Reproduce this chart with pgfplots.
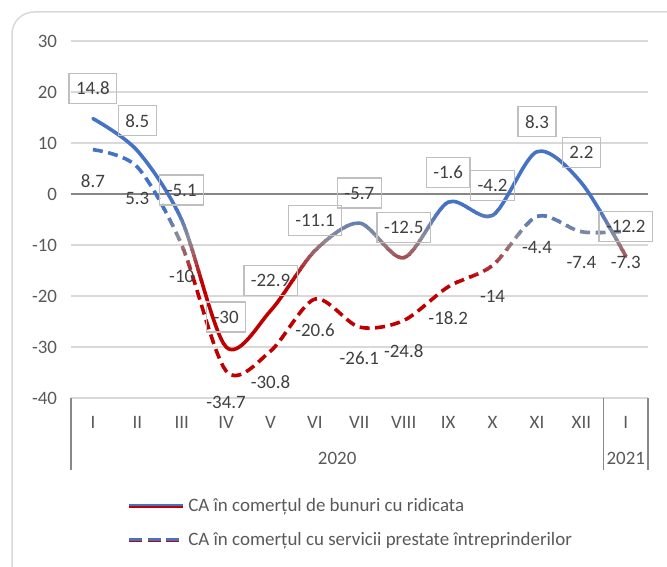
\documentclass[border=0pt]{standalone}
\usepackage{fontspec}
\setmainfont{Carlito}
\usepackage{pgfplots}
\pgfplotsset{compat=1.18}
\usepackage{pgfplotstable}

\newdimen\p \p=0.75pt
\newcommand\fs{\fontsize{14.2}{17}\selectfont}
\definecolor{blueC}{HTML}{4472C4}
\definecolor{redC}{HTML}{C00000}
\definecolor{greyC}{HTML}{8E8E98}
\definecolor{txt}{HTML}{595959}
\definecolor{labC}{HTML}{404040}
\definecolor{gridC}{HTML}{D9D9D9}
\definecolor{zeroC}{HTML}{868686}
\definecolor{boxC}{HTML}{BFBFBF}
\definecolor{sepC}{HTML}{898989}

% CA in comertul de bunuri cu ridicata
\pgfplotstableread{
x y lab
0 14.8 14.8
1 8.5 8.5
2 -5.1 -5.1
3 -30 -30
4 -22.9 -22.9
5 -11.1 -11.1
6 -5.7 -5.7
7 -12.5 -12.5
8 -1.6 -1.6
9 -4.2 -4.2
10 8.3 8.3
11 2.2 2.2
12 -12.2 -12.2
}\bunuri

% CA in comertul cu servicii prestate intreprinderilor
\pgfplotstableread{
x y lab
0 8.7 8.7
1 5.3 5.3
2 -10 -10
3 -34.7 -34.7
4 -30.8 -30.8
5 -20.6 -20.6
6 -26.1 -26.1
7 -24.8 -24.8
8 -18.2 -18.2
9 -14 -14
10 -4.4 -4.4
11 -7.4 -7.4
12 -7.3 -7.3
}\servicii

% one horizontal band of the colour gradient
\newcommand\band[3]{%
  \begin{scope}
    \clip (axis cs:-1,#1) rectangle (axis cs:13,#2);
    \addplot[smooth, line width=3.6\p, line cap=round, color=#3, forget plot]
      table[x=x,y=y]{\bunuri};
    \addplot[smooth, line width=3.6\p, color=#3, dash pattern=on 10\p off 5.5\p, forget plot]
      table[x=x,y=y]{\servicii};
  \end{scope}}

\begin{document}
\begin{tikzpicture}
\useasboundingbox (0,0) rectangle (667\p,-567\p);
\clip (0,0) rectangle (667\p,-567\p);
\draw[gridC, line width=1.5\p, rounded corners=22\p] (12\p,-12\p) rectangle (700\p,-600\p);

\begin{axis}[
    at={(70.7\p,-398\p)}, anchor=south west,
    scale only axis, width=577.3\p, height=357\p,
    xmin=-0.5, xmax=12.5, ymin=-40, ymax=30,
    ytick={-40,-30,...,30},
    xtick={0,...,12},
    xticklabels={I,II,III,IV,V,VI,VII,VIII,IX,X,XI,XII,I},
    major tick length=0,
    axis line style={draw=none},
    ymajorgrids, grid style={color=gridC, line width=1.3\p},
    extra y ticks={0}, extra y tick labels={},
    extra y tick style={grid style={color=zeroC, line width=1.3\p}},
    tick label style={font=\fs, text=txt},
    yticklabel style={xshift=-9\p},
    xticklabel style={anchor=center, yshift=-24\p},
    /pgf/number format/assume math mode=true,
    clip=false,
    legend style={at={(0.099,-0.27)}, anchor=north west, draw=none, fill=none,
      font=\fs, text=txt, row sep=11\p, inner sep=0pt,
      nodes={inner sep=4\p}},
    legend cell align=left,
]
\band{-3}{40}{blueC}
\band{-4}{-2.97}{blueC!92!greyC}
\band{-5}{-3.97}{blueC!75!greyC}
\band{-6}{-4.97}{blueC!58!greyC}
\band{-7}{-5.97}{blueC!42!greyC}
\band{-8}{-6.97}{blueC!25!greyC}
\band{-9}{-7.97}{blueC!8!greyC}
\band{-10}{-8.97}{redC!6!greyC}
\band{-11}{-9.97}{redC!19!greyC}
\band{-12}{-10.97}{redC!31!greyC}
\band{-13}{-11.97}{redC!44!greyC}
\band{-14}{-12.97}{redC!56!greyC}
\band{-15}{-13.97}{redC!69!greyC}
\band{-16}{-14.97}{redC!81!greyC}
\band{-17}{-15.97}{redC!94!greyC}
\band{-50}{-16.97}{redC}

% data labels
\addplot[draw=none, forget plot, point meta=explicit symbolic,
    nodes near coords={\pgfplotspointmeta},
    nodes near coords style={anchor=center, yshift=30\p, draw=boxC,
      line width=1.3\p, inner xsep=7\p, minimum height=30\p,
      font=\fs, text=labC}]
  table[x=x,y=y,meta=lab]{\bunuri};
\addplot[draw=none, forget plot, point meta=explicit symbolic,
    nodes near coords={\pgfplotspointmeta},
    nodes near coords style={anchor=center, yshift=-31\p, font=\fs, text=labC}]
  table[x=x,y=y,meta=lab]{\servicii};

% category separators and years
\draw[sepC, line width=1.6\p] (axis cs:-0.5,-40) -- ([yshift=-72\p]axis cs:-0.5,-40);
\draw[sepC, line width=1.6\p] (axis cs:11.5,-40) -- ([yshift=-72\p]axis cs:11.5,-40);
\draw[sepC, line width=1.6\p] (axis cs:12.5,-40) -- ([yshift=-72\p]axis cs:12.5,-40);
\node[font=\fs, text=txt, yshift=-60\p] at (axis cs:5.5,-40) {2020};
\node[font=\fs, text=txt, yshift=-60\p] at (axis cs:12,-40) {2021};

\addlegendimage{legend image code/.code={
  \draw[blueC, line width=2.2\p] (0,0.9\p) -- (54\p,0.9\p);
  \draw[redC, line width=1.6\p] (0,-1\p) -- (54\p,-1\p);}}
\addlegendentry{CA în comerțul de bunuri cu ridicata}
\addlegendimage{legend image code/.code={
  \draw[blueC, line width=2.2\p, dash pattern=on 13\p off 5.5\p] (0,0.9\p) -- (54\p,0.9\p);
  \draw[redC, line width=1.6\p, dash pattern=on 13\p off 5.5\p] (0,-1\p) -- (54\p,-1\p);}}
\addlegendentry{CA în comerțul cu servicii prestate întreprinderilor}
\end{axis}
\end{tikzpicture}
\end{document}
